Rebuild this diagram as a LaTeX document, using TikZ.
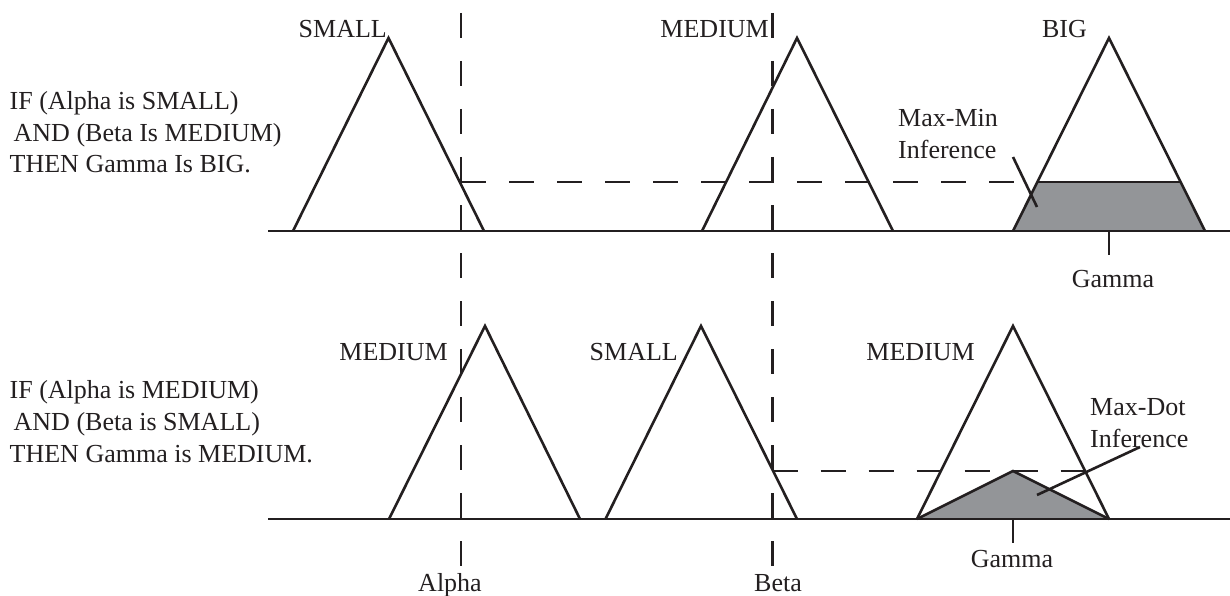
\documentclass[tikz,border=0pt]{standalone}
\usepackage{fontspec}
\setmainfont{Liberation Serif}
\definecolor{ink}{RGB}{35,31,32}
\definecolor{shade}{RGB}{147,149,152}
\begin{document}
\begin{tikzpicture}[x=1pt,y=-1pt,
  ln/.style={line width=2.6pt, draw=ink, line join=miter},
  axisline/.style={line width=2.9pt, draw=ink},
  dsh/.style={line width=2.6pt, draw=ink, dash pattern=on 25pt off 23pt},
  lbl/.style={font=\fontsize{26}{32}\selectfont, text=ink, inner sep=0pt},
  region/.style={fill=shade}]
\useasboundingbox (0,0) rectangle (1230,596);

% ---------- coordinates ----------
\coordinate (axTL) at (268,231);   \coordinate (axTR) at (1230,231);
\coordinate (axBL) at (268,519);   \coordinate (axBR) at (1230,519);
\coordinate (alphaTop) at (461,13); \coordinate (alphaBot) at (461,567);
\coordinate (betaTop) at (772.5,13); \coordinate (betaBot) at (772.5,567);
\coordinate (cutA) at (461,182);   \coordinate (cutAend) at (1014,182);
\coordinate (cutB) at (772.5,471); \coordinate (cutBend) at (1085,471);
\coordinate (g1a) at (1109,231);   \coordinate (g1b) at (1109,255);
\coordinate (g2a) at (1013,519);   \coordinate (g2b) at (1013,543);
\coordinate (mm1) at (1013,157);   \coordinate (mm2) at (1037,207);
\coordinate (md1) at (1140,447);   \coordinate (md2) at (1037,495);

% ---------- shaded inference results ----------
\path[region] (1013,231) -- (1037,182) -- (1181,182) -- (1205,231) -- cycle;
\path[region] (917,519) -- (1013,471) -- (1109,519) -- cycle;

% ---------- axes ----------
\draw[axisline] (axTL) -- (axTR);
\draw[axisline] (axBL) -- (axBR);

% ---------- membership triangles (top rule) ----------
\draw[ln] (293,231) -- (388.5,38) -- (484,231);
\draw[ln] (702,231) -- (797,38) -- (893,231);
\draw[ln] (1013,231) -- (1109,38) -- (1205,231);
\draw[ln] (1037,182) -- (1181,182);

% ---------- membership triangles (bottom rule) ----------
\draw[ln] (389,519) -- (485,326) -- (580,519);
\draw[ln] (605.5,519) -- (701,326) -- (797,519);
\draw[ln] (917,519) -- (1013,326) -- (1109,519);
\draw[ln] (917,519) -- (1013,471) -- (1109,519);

% ---------- dashed input lines ----------
\draw[dsh] (alphaTop) -- (alphaBot);
\draw[dsh] (betaTop) -- (betaBot);
\draw[dsh] (cutA) -- (cutAend);
\draw[dsh] (cutB) -- (cutBend);

% ---------- ticks and leaders ----------
\draw[ln] (g1a) -- (g1b);
\draw[ln] (g2a) -- (g2b);
\draw[ln] (mm1) -- (mm2);
\draw[ln] (md1) -- (md2);

% ---------- rule texts ----------
\node[lbl, anchor=base west] (r1a) at (9.5,110) {IF (Alpha is SMALL)};
\node[lbl, anchor=base west] (r1b) at (13.5,141.5) {AND (Beta Is MEDIUM)};
\node[lbl, anchor=base west] (r1c) at (9.5,173) {THEN Gamma Is BIG.};
\node[lbl, anchor=base west] (r2a) at (9.5,398) {IF (Alpha is MEDIUM)};
\node[lbl, anchor=base west] (r2b) at (13.5,430) {AND (Beta is SMALL)};
\node[lbl, anchor=base west] (r2c) at (9.5,462) {THEN Gamma is MEDIUM.};

% ---------- set labels ----------
\node[lbl, anchor=base east] (sA1) at (387,38) {SMALL};
\node[lbl, anchor=base east] (mB1) at (769,38) {MEDIUM};
\node[lbl, anchor=base east] (bG1) at (1087,38) {BIG};
\node[lbl, anchor=base east] (mA2) at (448,360) {MEDIUM};
\node[lbl, anchor=base east] (sB2) at (678,360) {SMALL};
\node[lbl, anchor=base east] (mG2) at (975,360) {MEDIUM};

% ---------- inference labels ----------
\node[lbl, anchor=base west] (mmA) at (898,127) {Max-Min};
\node[lbl, anchor=base west] (mmB) at (898,159) {Inference};
\node[lbl, anchor=base west] (mdA) at (1090,415) {Max-Dot};
\node[lbl, anchor=base west] (mdB) at (1090,447) {Inference};

% ---------- axis variable labels ----------
\node[lbl, anchor=base] (gam1) at (1113,287) {Gamma};
\node[lbl, anchor=base] (gam2) at (1012,567) {Gamma};
\node[lbl, anchor=base] (alp) at (450,591) {Alpha};
\node[lbl, anchor=base] (bet) at (778,591) {Beta};
\end{tikzpicture}
\end{document}
